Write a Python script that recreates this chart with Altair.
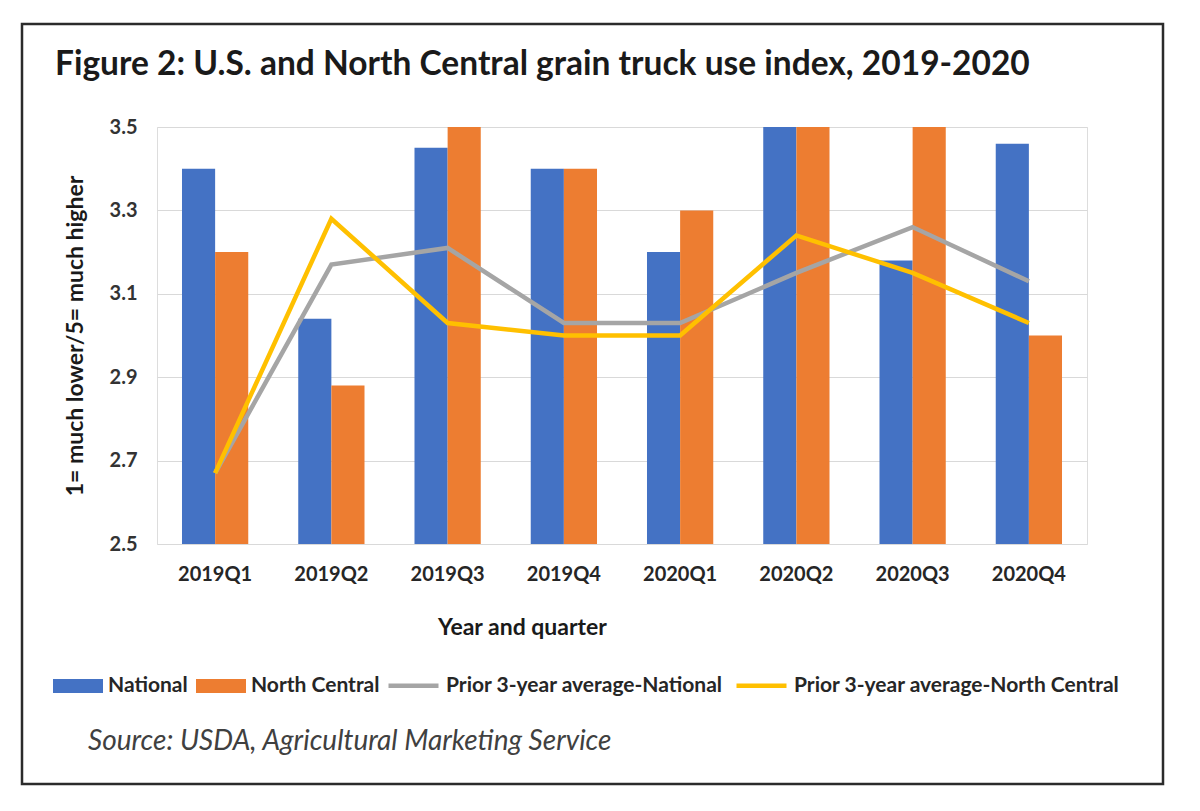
import altair as alt
import pandas as pd

quarters = ["2019Q1", "2019Q2", "2019Q3", "2019Q4", "2020Q1", "2020Q2", "2020Q3", "2020Q4"]
national = [3.40, 3.04, 3.45, 3.40, 3.20, 3.50, 3.18, 3.46]
north_central = [3.20, 2.88, 3.50, 3.40, 3.30, 3.50, 3.50, 3.00]
avg_national = [2.67, 3.17, 3.21, 3.03, 3.03, 3.15, 3.26, 3.13]
avg_north_central = [2.67, 3.28, 3.03, 3.00, 3.00, 3.24, 3.15, 3.03]

bar_series = ["National", "North Central"]
bar_colors = ["#4472C4", "#ED7D31"]
line_series = ["Prior 3-year average-National", "Prior 3-year average-North Central"]
line_colors = ["#A5A5A5", "#FFC000"]
y_ticks = [2.5, 2.7, 2.9, 3.1, 3.3, 3.5]

title_text = "Figure 2: U.S. and North Central grain truck use index, 2019-2020"
source_text = "Source: USDA, Agricultural Marketing Service"

bars_df = pd.DataFrame({
    "quarter": quarters * 2,
    "series": [bar_series[0]] * 8 + [bar_series[1]] * 8,
    "value": national + north_central,
})
gray_df = pd.DataFrame({"quarter": quarters, "series": line_series[0], "value": avg_national})
yellow_df = pd.DataFrame({"quarter": quarters, "series": line_series[1], "value": avg_north_central})

FONT = "Lato"

x_enc = alt.X(
    "quarter:N", sort=quarters,
    scale=alt.Scale(paddingInner=0.43, paddingOuter=0.215),
    axis=alt.Axis(title="Year and quarter", labelAngle=0, domain=False, ticks=False,
                  labelFont=FONT, labelFontSize=20, labelFontWeight="bold", labelColor="#262626",
                  labelPadding=20, titleFont=FONT, titleFontSize=23, titleFontWeight="bold",
                  titleColor="#1a1a1a", titlePadding=32, titleX=365, titleAlign="center",
                  titleAnchor="start"),
)
y_scale = alt.Scale(domain=[2.5, 3.5], zero=False, nice=False)
y_enc = alt.Y(
    "value:Q", scale=y_scale,
    axis=alt.Axis(title="1= much lower/5= much higher", values=y_ticks, format=".1f",
                  domain=False, ticks=False, grid=True, gridColor="#d9d9d9", gridWidth=1.2,
                  labelFont=FONT, labelFontSize=20, labelFontWeight="bold", labelColor="#333333",
                  labelPadding=20, titleFont=FONT, titleFontSize=23, titleFontWeight="bold",
                  titleColor="#1a1a1a", titlePadding=22),
)

legend_common = dict(title=None, orient="none", direction="horizontal", labelFont=FONT,
                     labelFontSize=21, labelFontWeight="bold", labelColor="#262626",
                     labelOffset=5, padding=0, labelLimit=0)

bars = alt.Chart(bars_df).mark_bar(clip=True).encode(
    x=x_enc,
    xOffset=alt.XOffset("series:N", sort=bar_series, scale=alt.Scale(paddingInner=0, paddingOuter=0)),
    y=y_enc,
    y2=alt.datum(2.5),
    fill=alt.Fill("series:N", scale=alt.Scale(domain=bar_series, range=bar_colors),
                  legend=alt.Legend(legendX=-104, legendY=534, columnPadding=8,
                                    symbolType="M-1,-0.28H1V0.28H-1Z",
                                    symbolSize=2500, symbolStrokeWidth=0, **legend_common)),
)

line_legend = alt.Legend(legendX=229, legendY=531, columnPadding=4, symbolType="stroke",
                         symbolSize=2500, symbolStrokeWidth=4.5, **legend_common)
stroke_scale = alt.Scale(domain=line_series, range=line_colors)

gray = alt.Chart(gray_df).mark_line(strokeWidth=4.5, clip=True).encode(
    x=alt.X("quarter:N", sort=quarters), y=alt.Y("value:Q"),
    stroke=alt.Stroke("series:N", scale=stroke_scale, legend=line_legend),
)
yellow = alt.Chart(yellow_df).mark_line(strokeWidth=4.5, clip=True).encode(
    x=alt.X("quarter:N", sort=quarters), y=alt.Y("value:Q"),
    stroke=alt.Stroke("series:N", scale=stroke_scale, legend=line_legend),
)

title = alt.Chart(pd.DataFrame({"t": [title_text]})).mark_text(
    align="left", baseline="alphabetic", font=FONT, fontSize=33.5, fontWeight="bold", color="#1a1a1a"
).encode(text="t:N", x=alt.value(-102), y=alt.value(-52))

source = alt.Chart(pd.DataFrame({"t": [source_text]})).mark_text(
    align="left", baseline="middle", font=FONT, fontSize=28, fontStyle="italic", color="#404040"
).encode(text="t:N", x=alt.value(-69), y=alt.value(615))

border = alt.Chart(pd.DataFrame({"b": [0]})).mark_rect(
    fill=None, stroke="#2b2b2b", strokeWidth=2.5
).encode(x=alt.value(-135), x2=alt.value(1006), y=alt.value(-103), y2=alt.value(657))

chart = alt.layer(bars, gray, yellow, title, source, border).properties(
    width=930, height=417,
    autosize=alt.AutoSizeParams(type="none"),
    padding={"left": 157, "top": 127, "right": 113, "bottom": 267},
).configure_view(stroke=None).configure(background="white")

chart.save("out.html", embed_options={"renderer": "svg", "actions": False})
